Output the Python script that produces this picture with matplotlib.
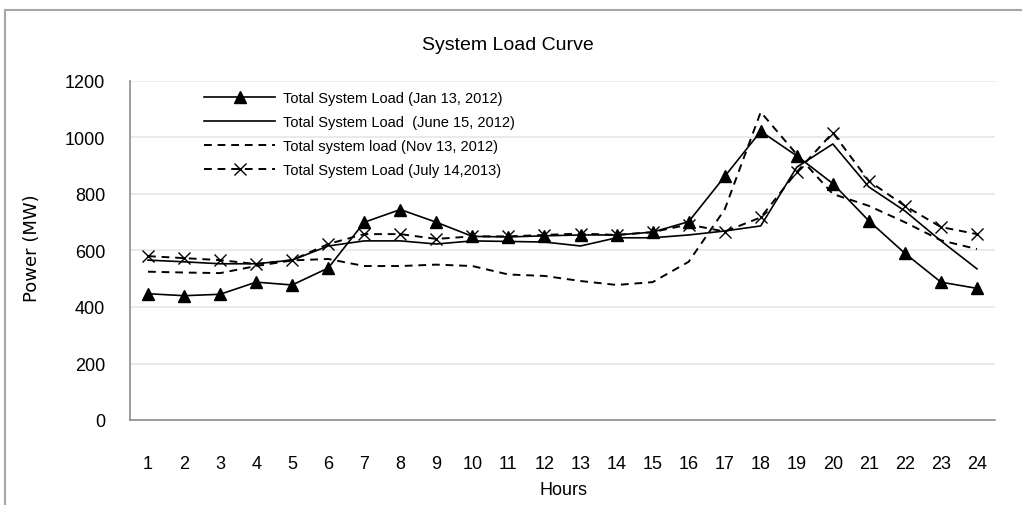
import matplotlib
matplotlib.use("Agg")
import matplotlib.pyplot as plt
from matplotlib.patches import Rectangle

hours = list(range(1, 25))
jan_2012 = [447, 440, 445, 488, 478, 538, 700, 745, 700, 650, 648, 652, 655, 655, 665, 702, 862, 1022, 935, 837, 705, 590, 488, 466]
june_2012 = [566, 560, 553, 553, 566, 616, 634, 634, 623, 634, 632, 630, 616, 645, 645, 655, 669, 687, 895, 977, 825, 740, 634, 535]
nov_2012 = [525, 522, 520, 545, 565, 570, 545, 545, 550, 545, 515, 510, 492, 478, 488, 560, 745, 1090, 940, 800, 758, 700, 636, 605]
july_2013 = [580, 573, 566, 552, 566, 623, 658, 658, 641, 650, 650, 655, 660, 655, 665, 692, 667, 717, 878, 1017, 846, 758, 683, 658]
labels = ["Total System Load (Jan 13, 2012)",
          "Total System Load  (June 15, 2012)",
          "Total system load (Nov 13, 2012)",
          "Total System Load (July 14,2013)"]
yticks = [0, 200, 400, 600, 800, 1000, 1200]

plt.rcParams['font.family'] = ['Liberation Sans', 'DejaVu Sans']

W, H = 1022, 506
fig = plt.figure(figsize=(W / 100, H / 100), dpi=100)
ax = fig.add_axes([130 / W, 1 - 421 / H, (995 - 130) / W, (421 - 82) / H])

dash = (0, (4, 3))
ax.plot(hours, jan_2012, color='black', lw=1.2, marker='^', ms=8, label=labels[0])
ax.plot(hours, june_2012, color='black', lw=1.2, label=labels[1])
ax.plot(hours, nov_2012, color='black', lw=1.4, ls=dash, label=labels[2])
ax.plot(hours, july_2013, color='black', lw=1.4, ls=dash, marker='x', ms=8, mew=1.0, label=labels[3])

ax.set_xlim(0.5, 24.5)
ax.set_ylim(0, 1200)
ax.set_xticks(hours)
ax.set_yticks(yticks)
ax.tick_params(axis='x', length=0, pad=25, labelsize=13)
ax.tick_params(axis='y', length=0, pad=18, labelsize=13)
ax.yaxis.grid(True, color='#e6e6e6', lw=1.2)
ax.set_axisbelow(True)
for s in ['top', 'right']:
    ax.spines[s].set_visible(False)
for s in ['left', 'bottom']:
    ax.spines[s].set_color('#8c8c8c')
    ax.spines[s].set_linewidth(1.2)

fig.text(508 / W, 1 - 45 / H, "System Load Curve", ha='center', va='center', fontsize=14)
fig.text(563 / W, 1 - 491 / H, "Hours", ha='center', va='center', fontsize=13)
fig.text(32 / W, 1 - 248 / H, "Power (MW)", ha='center', va='center', rotation=90,
         fontsize=13, family='DejaVu Sans')

leg = ax.legend(loc='upper left', bbox_to_anchor=(204 / W, 1 - 92 / H),
                bbox_transform=fig.transFigure, frameon=False, fontsize=10.5,
                handlelength=4.9, handletextpad=0.5, labelspacing=0.68,
                borderpad=0, borderaxespad=0)

fig.patches.append(Rectangle((5 / W, -0.05), 1.1, 1 - 11 / H + 0.05, transform=fig.transFigure,
                             fill=False, edgecolor='#a6a6a6', lw=1.5))

fig.savefig("out.png", dpi=100)
